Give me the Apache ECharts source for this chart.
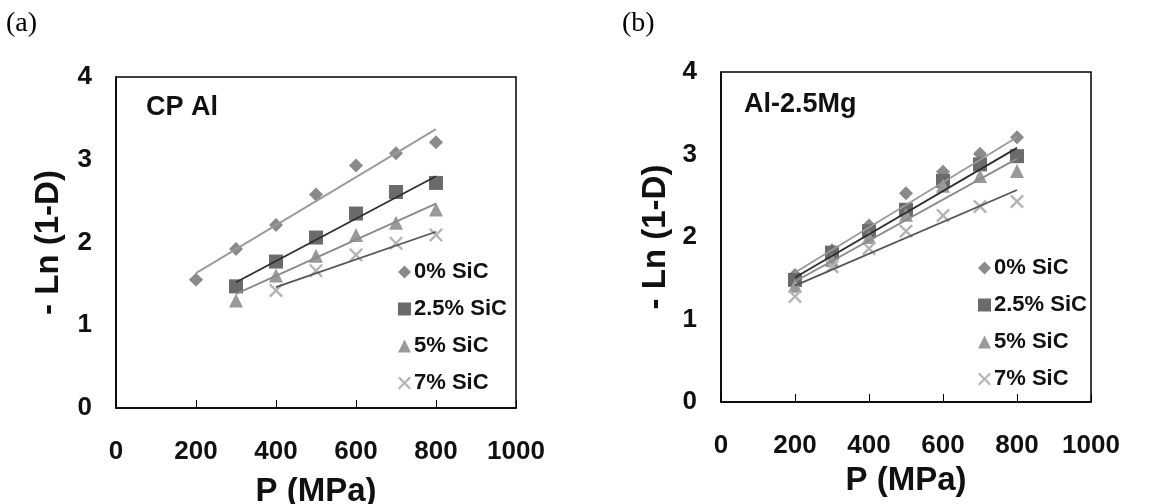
<!DOCTYPE html>
<html>
<head>
<meta charset="utf-8">
<script src="https://cdn.jsdelivr.net/npm/echarts@6/dist/echarts.min.js"></script>
<style>html,body{margin:0;padding:0;background:#fff;}#c{width:1162px;height:504px;}</style>
</head>
<body>
<div id="c"></div>
<script>
// ---- data ----
const seriesNames = ['0% SiC', '2.5% SiC', '5% SiC', '7% SiC'];
const xTicks = [0, 200, 400, 600, 800, 1000];
const yTicks = [0, 1, 2, 3, 4];

// (a) CP Al
const pA0 = [200, 300, 400, 500, 600, 700, 800];
const vA0 = [1.55, 1.92, 2.21, 2.58, 2.93, 3.08, 3.21];
const pA25 = [300, 400, 500, 600, 700, 800];
const vA25 = [1.47, 1.77, 2.06, 2.35, 2.61, 2.72];
const pA5 = [300, 400, 500, 600, 700, 800];
const vA5 = [1.30, 1.60, 1.84, 2.09, 2.24, 2.40];
const pA7 = [400, 500, 600, 700, 800];
const vA7 = [1.42, 1.66, 1.85, 1.99, 2.09];
// trend line endpoints
const tA0 = [[200, 1.63], [800, 3.37]];
const tA25 = [[300, 1.52], [800, 2.80]];
const tA5 = [[300, 1.38], [800, 2.47]];
const tA7 = [[400, 1.46], [800, 2.13]];

// (b) Al-2.5Mg
const pB = [200, 300, 400, 500, 600, 700, 800];
const vB0 = [1.54, 1.84, 2.14, 2.53, 2.79, 3.01, 3.21];
const vB25 = [1.48, 1.81, 2.07, 2.33, 2.68, 2.88, 2.98];
const vB5 = [1.41, 1.72, 2.00, 2.27, 2.62, 2.74, 2.80];
const vB7 = [1.28, 1.64, 1.86, 2.07, 2.26, 2.37, 2.43];
const tB0 = [[200, 1.57], [800, 3.21]];
const tB25 = [[200, 1.51], [800, 3.08]];
const tB5 = [[200, 1.46], [800, 2.95]];
const tB7 = [[200, 1.41], [800, 2.57]];

// ---- styles ----
const FONT = '"Liberation Sans", Arial, sans-serif';
const xPath = 'path://M0,1.2L1.2,0L5,3.8L8.8,0L10,1.2L6.2,5L10,8.8L8.8,10L5,6.2L1.2,10L0,8.8L3.8,5Z';
const sym = ['diamond', 'rect', 'triangle', xPath];
const symSize = [14, 14, 14, 14];
const symColor = ['#8a8a8a', '#6b6b6b', '#9a9a9a', '#b4b4b4'];
const lineColor = ['#9a9a9a', '#2e2e2e', '#8a8a8a', '#555555'];

function zip(xs, ys) { return xs.map((x, i) => [x, ys[i]]); }

function xAxis(gi, gap) {
  return {
    gridIndex: gi, type: 'value', min: 0, max: 1000, interval: 200,
    axisLine: { show: true, lineStyle: { color: '#000', width: 1.5 } },
    axisTick: { show: true, inside: true, length: 8, lineStyle: { color: '#000', width: 1 } },
    splitLine: { show: false },
    axisLabel: { margin: 31, fontSize: 26, fontWeight: 'bold', color: '#111', fontFamily: FONT,
      formatter: v => String(v) },
    name: 'P (MPa)', nameLocation: 'middle', nameGap: gap,
    nameTextStyle: { fontSize: 33, fontWeight: 'bold', color: '#111', fontFamily: FONT }
  };
}
function yAxis(gi, gap) {
  return {
    gridIndex: gi, type: 'value', min: 0, max: 4, interval: 1,
    axisLine: { show: true, lineStyle: { color: '#000', width: 1.5 } },
    axisTick: { show: false },
    splitLine: { show: false },
    axisLabel: { margin: 24, fontSize: 26, fontWeight: 'bold', color: '#111', fontFamily: FONT,
      formatter: v => String(v) },
    name: '- Ln (1-D)', nameLocation: 'middle', nameGap: gap,
    nameTextStyle: { fontSize: 33, fontWeight: 'bold', color: '#111', fontFamily: FONT }
  };
}

const series = [];
function addScatter(gi, name, idx, data) {
  series.push({
    type: 'scatter', name: name, xAxisIndex: gi, yAxisIndex: gi, data: data,
    symbol: sym[idx], symbolSize: symSize[idx], itemStyle: { color: symColor[idx], opacity: 1 },
    z: 2
  });
}
function addLine(gi, idx, data) {
  series.push({
    type: 'line', name: 'trend' + gi + '_' + idx, xAxisIndex: gi, yAxisIndex: gi, data: data,
    symbol: 'none', lineStyle: { color: lineColor[idx], width: 1.8 }, z: 3, silent: true
  });
}
addScatter(0, seriesNames[0], 0, zip(pA0, vA0));
addScatter(0, seriesNames[1], 1, zip(pA25, vA25));
addScatter(0, seriesNames[2], 2, zip(pA5, vA5));
addScatter(0, seriesNames[3], 3, zip(pA7, vA7));
addLine(0, 0, tA0); addLine(0, 1, tA25); addLine(0, 2, tA5); addLine(0, 3, tA7);
addScatter(1, seriesNames[0], 0, zip(pB, vB0));
addScatter(1, seriesNames[1], 1, zip(pB, vB25));
addScatter(1, seriesNames[2], 2, zip(pB, vB5));
addScatter(1, seriesNames[3], 3, zip(pB, vB7));
addLine(1, 0, tB0); addLine(1, 1, tB25); addLine(1, 2, tB5); addLine(1, 3, tB7);

function legend(left, top) {
  return {
    data: seriesNames, orient: 'vertical', left: left, top: top,
    itemWidth: 13, itemHeight: 13, itemGap: 15, padding: 0,
    textStyle: { fontSize: 22, lineHeight: 22, fontWeight: 'bold', color: '#111', fontFamily: FONT, padding: [0, 0, 0, -2] },
    selectedMode: false
  };
}

const chart = echarts.init(document.getElementById('c'), null, { renderer: 'canvas' });
chart.setOption({
  animation: false,
  backgroundColor: '#fff',
  grid: [
    { left: 116, right: 646, top: 77, bottom: 96, containLabel: false, outerBoundsMode: 'none', show: true, borderColor: '#000', borderWidth: 1.5, backgroundColor: 'transparent' },
    { left: 721, right: 71, top: 72, bottom: 102, containLabel: false, outerBoundsMode: 'none', show: true, borderColor: '#000', borderWidth: 1.5, backgroundColor: 'transparent' }
  ],
  title: [
    { text: '(a)', left: 6, top: 10, padding: 0, textStyle: { fontSize: 28, fontWeight: 'normal', color: '#000', fontFamily: '"Liberation Serif", "Times New Roman", serif' } },
    { text: '(b)', left: 622, top: 10, padding: 0, textStyle: { fontSize: 28, fontWeight: 'normal', color: '#000', fontFamily: '"Liberation Serif", "Times New Roman", serif' } },
    { text: 'CP Al', left: 146, top: 94, padding: 0, textStyle: { fontSize: 27, fontWeight: 'bold', color: '#111', fontFamily: FONT } },
    { text: 'Al-2.5Mg', left: 744, top: 91, padding: 0, textStyle: { fontSize: 27, fontWeight: 'bold', color: '#111', fontFamily: FONT } }
  ],
  legend: [legend(398, 261), legend(978, 257)],
  xAxis: [xAxis(0, 67), xAxis(1, 62)],
  yAxis: [yAxis(0, 51), yAxis(1, 49)],
  series: series
});
</script>
</body>
</html>
